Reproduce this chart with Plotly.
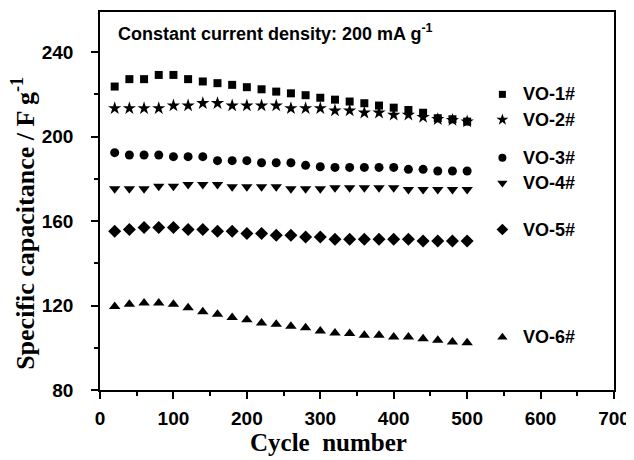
import plotly.graph_objects as go

cycles = [20, 40, 60, 80, 100, 120, 140, 160, 180, 200, 220, 240, 260,
          280, 300, 320, 340, 360, 380, 400, 420, 440, 460, 480, 500]
vo1 = [223.7, 227.2, 227.2, 229.2, 229.2, 227.2, 226.1, 225.3, 224.5, 223.4,
       222.4, 221.3, 220.5, 219.6, 218.4, 217.5, 216.6, 215.8, 214.7, 213.7,
       212.6, 211.3, 208.7, 208.2, 207.1]
vo2 = [213.4, 213.4, 213.4, 213.4, 214.7, 214.7, 215.8, 215.8, 214.7, 214.7,
       214.7, 214.7, 213.4, 213.4, 213.4, 212.3, 212.3, 211.3, 211.3, 210.3,
       210.3, 209.2, 208.2, 207.8, 207.1]
vo3 = [192.4, 191.3, 191.3, 191.3, 190.5, 190.5, 190.5, 188.6, 188.6, 188.6,
       187.6, 187.6, 187.6, 186.4, 185.7, 185.4, 185.4, 185.4, 185.4, 185.4,
       184.5, 184.5, 183.7, 183.7, 183.7]
vo4 = [175.3, 175.3, 175.3, 176.5, 176.5, 177.3, 177.3, 177.3, 176.2, 176.2,
       176.2, 176.2, 175.3, 175.3, 175.3, 175.8, 175.8, 175.8, 175.8, 175.8,
       175.0, 175.0, 175.0, 175.0, 175.0]
vo5 = [155.2, 156.0, 157.0, 157.0, 157.0, 156.0, 156.0, 155.2, 155.2, 154.1,
       154.1, 153.3, 153.3, 152.5, 152.5, 151.4, 151.4, 151.4, 151.4, 151.4,
       151.4, 150.6, 150.6, 150.6, 150.6]
vo6 = [119.6, 120.6, 121.2, 121.2, 120.6, 119.0, 117.0, 115.9, 114.3, 113.3,
       111.7, 111.1, 110.2, 109.5, 107.9, 107.0, 106.7, 105.9, 105.9, 105.1,
       105.1, 104.3, 103.5, 102.7, 102.4]
series_names = ["VO-1#", "VO-2#", "VO-3#", "VO-4#", "VO-5#", "VO-6#"]
series_values = [vo1, vo2, vo3, vo4, vo5, vo6]
key_y = [220, 208, 190, 178, 156, 105]   # where each label sits beside the data
x_ticks = [0, 100, 200, 300, 400, 500, 600, 700]
y_ticks = [80, 120, 160, 200, 240]

symbols = ["square", "star", "circle", "triangle-down", "diamond", "triangle-up"]
sizes = [8, 10, 9, 10, 10, 10]
key_sizes = [7, 9, 8, 9, 9, 9]

fig = go.Figure()
for name, vals, sym, sz in zip(series_names, series_values, symbols, sizes):
    fig.add_trace(go.Scatter(x=cycles, y=vals, mode="markers", name=name,
                             marker=dict(symbol=sym, size=sz, color="black",
                                         line=dict(width=0)),
                             showlegend=False))

key_x = 548
label_x = 573
for name, ky, sym, sz in zip(series_names, key_y, symbols, key_sizes):
    fig.add_trace(go.Scatter(x=[key_x], y=[ky], mode="markers",
                             marker=dict(symbol=sym, size=sz, color="black",
                                         line=dict(width=0)),
                             showlegend=False, hoverinfo="skip"))
    fig.add_annotation(x=label_x, y=ky, xref="x", yref="y", text=name,
                       showarrow=False, xanchor="left", yanchor="middle",
                       font=dict(family="Liberation Sans", size=18,
                                 color="black", weight="bold"))

fig.add_annotation(x=22, y=249.5, xref="x", yref="y",
                   text="Constant current density: 200 mA g<sup>-1</sup>",
                   showarrow=False, xanchor="left", yanchor="middle",
                   font=dict(family="Liberation Sans", size=18, color="black",
                             weight="bold"))

title_font = dict(family="Liberation Serif", size=26, color="black",
                  weight="bold")
fig.add_annotation(x=-0.148, y=0.442, xref="paper", yref="paper",
                   text="Specific capacitance / F g<sup>-1</sup>",
                   textangle=-90, showarrow=False,
                   xanchor="center", yanchor="middle", font=title_font)
fig.add_annotation(x=0.4436, y=-0.140, xref="paper", yref="paper",
                   text="Cycle  number", showarrow=False,
                   xanchor="center", yanchor="middle",
                   font=dict(title_font, size=25))

axis_common = dict(showline=True, linecolor="black", linewidth=1.5,
                   mirror=True, ticks="outside", ticklen=7, tickwidth=1.5,
                   tickcolor="black", showgrid=False, zeroline=False,
                   automargin=False,
                   tickfont=dict(family="Liberation Sans", size=19,
                                 color="black", weight="bold"))

fig.update_xaxes(range=[0, 700], tickvals=x_ticks, ticklabelstandoff=3,
                 minor=dict(ticks="outside", ticklen=4, tickwidth=1.5,
                            tickcolor="black", dtick=50, tick0=0),
                 **axis_common)
fig.update_yaxes(range=[80, 259], tickvals=y_ticks, ticklabelstandoff=14,
                 minor=dict(ticks="outside", ticklen=4, tickwidth=1.5,
                            tickcolor="black", dtick=20, tick0=80),
                 **axis_common)

# the page adds an 8px body margin, so the figure is 8px smaller each way
fig.update_layout(width=626, height=452,
                  margin=dict(l=92, r=20, t=4, b=70),
                  plot_bgcolor="white", paper_bgcolor="white")

fig.write_html("out.html")
